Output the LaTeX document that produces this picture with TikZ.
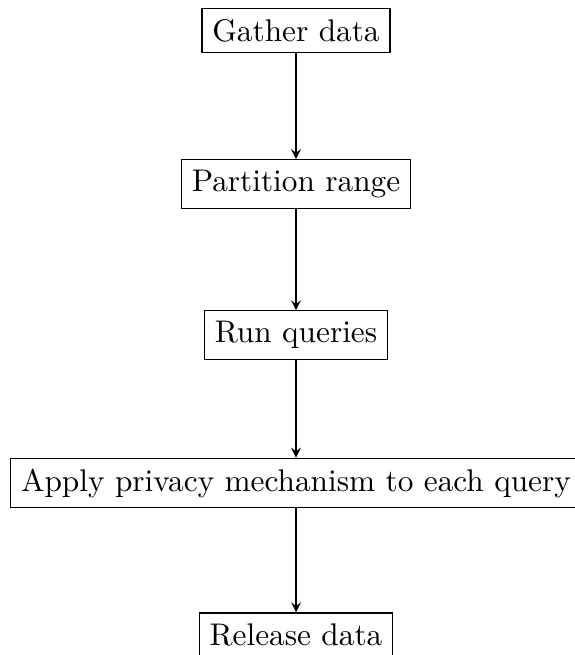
\documentclass[tikz,border=0pt]{standalone}
\usetikzlibrary{arrows}
\begin{document}
\begin{tikzpicture}[x=0.3195pt,y=-0.3195pt,
  stepbox/.style={draw,rectangle,inner sep=3.33pt},
  flow/.style={-stealth}]
\useasboundingbox (0,0) rectangle (574,655);
\node[stepbox] (a) at (296,30.5) {Gather data};
\node[stepbox] (b) at (296,184) {Partition range};
\node[stepbox] (c) at (296,335) {Run queries};
\node[stepbox] (d) at (296,483) {Apply privacy mechanism to each query};
\node[stepbox] (e) at (296,634.5) {Release data};
\draw[flow] (a) -- (b);
\draw[flow] (b) -- (c);
\draw[flow] (c) -- (d);
\draw[flow] (d) -- (e);
\end{tikzpicture}
\end{document}
